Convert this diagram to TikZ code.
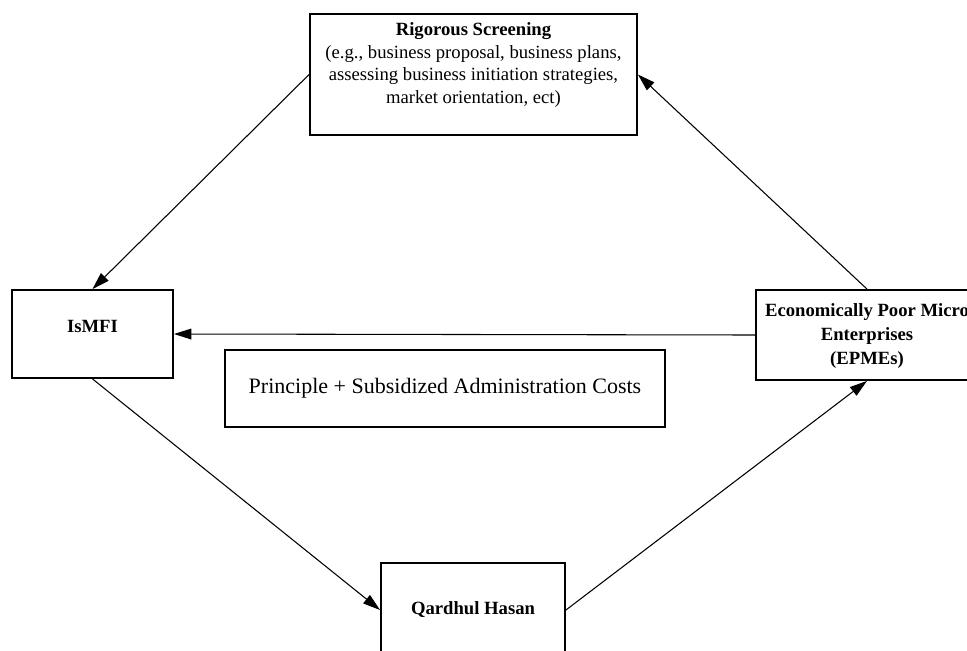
\documentclass[tikz,border=0pt]{standalone}
\usepackage{fontspec}
\setmainfont{Liberation Serif}
\usetikzlibrary{arrows.meta}

\newlength{\du}
\setlength{\du}{0.75pt}

\tikzset{
  box/.style={draw, line width=1.4pt, rectangle, inner sep=0pt, align=center},
  link/.style={line width=0.8pt, -{Triangle[length=13pt,width=8pt]}},
  lbl/.style={font=\fontsize{14}{17}\selectfont, align=center, inner sep=0pt}
}

\begin{document}
\begin{tikzpicture}[x=\du,y=-\du]
\useasboundingbox (0,0) rectangle (967,650);
\clip (0,0) rectangle (967,650);

% boxes
\node[box, minimum width=327\du, minimum height=121\du] (screen) at (473.5,74.5) {};
\node[lbl] (screen-t) at (473.5,65) {\textbf{Rigorous Screening}\\(e.g., business proposal, business plans,\\assessing business initiation strategies,\\market orientation, ect)};

\node[box, minimum width=161\du, minimum height=88\du] (ismfi) at (92.5,334) {};
\node[lbl, font=\bfseries\fontsize{14}{17}\selectfont] (ismfi-t) at (92.5,326) {IsMFI};

\node[box, minimum width=222\du, minimum height=90\du] (epme) at (867,335) {};
\node[lbl, font=\bfseries\fontsize{14}{18}\selectfont] (epme-t) at (867,336) {Economically Poor Micro\\Enterprises\\(EPMEs)};

\node[box, minimum width=440\du, minimum height=77\du,
      font=\fontsize{16.5}{20}\selectfont] (cost) at (445,388.5) {Principle + Subsidized Administration Costs};

\node[box, minimum width=184\du, minimum height=94\du,
      font=\bfseries\fontsize{14}{17}\selectfont] (qard) at (473,610) {Qardhul Hasan};

% connectors
\draw[link] (screen.west) -- (ismfi.north);
\draw[link] (epme.west) -- (ismfi.east);
\draw[link] (epme.north) -- (screen.east);
\draw[link] (ismfi.south) -- (qard.west);
\draw[link] (qard.east) -- (epme.south);
\end{tikzpicture}
\end{document}
